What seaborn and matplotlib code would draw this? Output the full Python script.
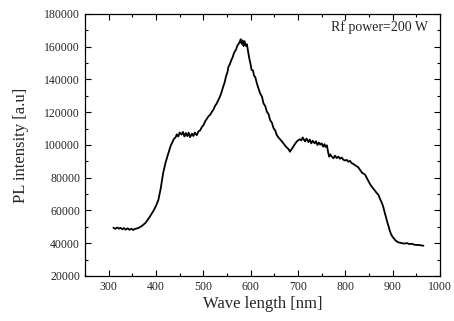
import pandas as pd
import matplotlib.pyplot as plt
import seaborn as sns

# PL spectrum
wavelength = [
    310, 314, 318, 322, 325, 329, 332, 336, 340, 344, 348, 352, 355,
    362, 370, 378, 387, 395, 400, 405, 410, 415, 420, 426, 431,
    435, 438, 441, 444, 447, 450, 454, 457, 460, 463, 466, 469, 472,
    476, 479, 482, 486, 490, 493, 497, 500,
    504, 507, 511, 514, 518, 521, 525, 528, 531, 535, 538, 542,
    545, 548, 551, 553, 556, 559, 562, 564, 567, 569, 572, 574, 577, 579,
    581, 583, 585, 587, 590, 592, 595, 597, 600, 602,
    605, 607, 610, 613, 616, 620, 624, 627, 631, 634, 638, 641,
    645, 648, 652, 655, 659, 662, 666, 669, 673, 676, 680, 683,
    686, 690, 694, 697, 700, 704, 707, 710, 713, 715, 718, 722,
    725, 728, 731, 735, 738, 741, 744, 747, 750, 753, 756, 758,
    761, 764, 766, 768, 771, 775, 778, 782, 785, 789, 792, 796,
    799, 803, 806, 810, 813, 817, 820, 824, 827, 830, 833, 836,
    839, 842, 846, 849, 852, 856, 860, 863, 866, 870,
    873, 875, 878, 880, 882, 884, 886, 888, 890, 892, 894, 896,
    898, 900, 903, 905, 908, 910, 913, 916, 920, 925, 930, 935,
    940, 945, 950, 955, 960, 965,
]
intensity = [
    49500, 48800, 49600, 48900, 49400, 48500, 49300, 48300, 49100, 48200, 48900, 48100, 48700,
    49200, 50500, 52500, 56200, 60000, 62800, 66400, 73500, 82700, 89000, 94900, 99500,
    102000, 103800, 104500, 106500, 105200, 107600, 106300, 108000, 105200, 107300, 105400, 107500, 104800,
    106900, 105500, 107600, 106000, 108400, 108800, 111000, 112000,
    114500, 115800, 117600, 118300, 120200, 121400, 124000, 125200, 127000, 129500, 131800, 135600,
    138200, 142000, 144500, 147800, 149300, 151800, 153600, 155500, 157400, 158200, 160800, 161500, 163000, 164600,
    161800, 163800, 160400, 163400, 160500, 161500, 156200, 153000, 149000, 145800,
    145500, 142500, 141200, 137700, 135000, 131500, 129500, 125500, 123600, 120500, 118700, 115300,
    113500, 110500, 108800, 106100, 104500, 103500, 102200, 101000, 99500, 98500, 97500, 95900,
    97200, 99000, 100800, 102000, 102800, 103500, 102800, 104600, 103000, 102200, 103900, 101800,
    103300, 101000, 102600, 101000, 102300, 100000, 101500, 100200, 101000, 99000, 100500, 98800,
    99800, 95000, 92900, 94300, 93000, 91900, 93500, 92000, 92900, 91600, 92400, 91000,
    90500, 90900, 89800, 90300, 89000, 88400, 87800, 87000, 86500, 85300, 84000, 82800,
    82500, 81700, 79500, 77800, 76200, 74500, 73000, 71800, 70800, 69500,
    67200, 66000, 64000, 62300, 60000, 57800, 55800, 53500, 51500, 49800, 47500, 46000,
    44800, 43800, 42800, 42000, 41300, 40800, 40500, 40300, 40000, 39800, 40100, 39500,
    39700, 39200, 38900, 39000, 38700, 38500,
]

df = pd.DataFrame({'Wavelength': wavelength, 'Intensity': intensity})

sns.set_style('ticks')
plt.rcParams['font.family'] = ['Liberation Serif', 'DejaVu Serif']

fig = plt.figure(figsize=(4.54, 3.21), dpi=100)
ax = fig.add_axes([0.1872, 0.1402, 0.7820, 0.8162])

sns.lineplot(x='Wavelength', y='Intensity', data=df, ax=ax,
             color='black', linewidth=1.3)

ax.set_xlim(250, 1000)
ax.set_ylim(20000, 180000)
ax.set_xticks(range(300, 1001, 100))
ax.set_yticks(range(20000, 180001, 20000))
ax.set_xticks(range(250, 1001, 50), minor=True)
ax.set_yticks(range(20000, 180001, 10000), minor=True)
ax.tick_params(which='both', direction='in', top=True, right=True,
               labeltop=False, labelright=False, width=0.8, color='black')
ax.tick_params(which='major', length=4, labelsize=8.5)
ax.tick_params(which='minor', length=2)
for s in ax.spines.values():
    s.set_color('black')
    s.set_linewidth(0.9)

ax.set_xlabel('Wave length [nm]', fontsize=12, labelpad=2)
ax.set_ylabel('PL intensity [a.u]', fontsize=12, labelpad=11)
ax.text(0.966, 0.95, 'Rf power=200 W', transform=ax.transAxes,
        ha='right', va='center', fontsize=10)

plt.savefig('out.png', dpi=100)
plt.close()
